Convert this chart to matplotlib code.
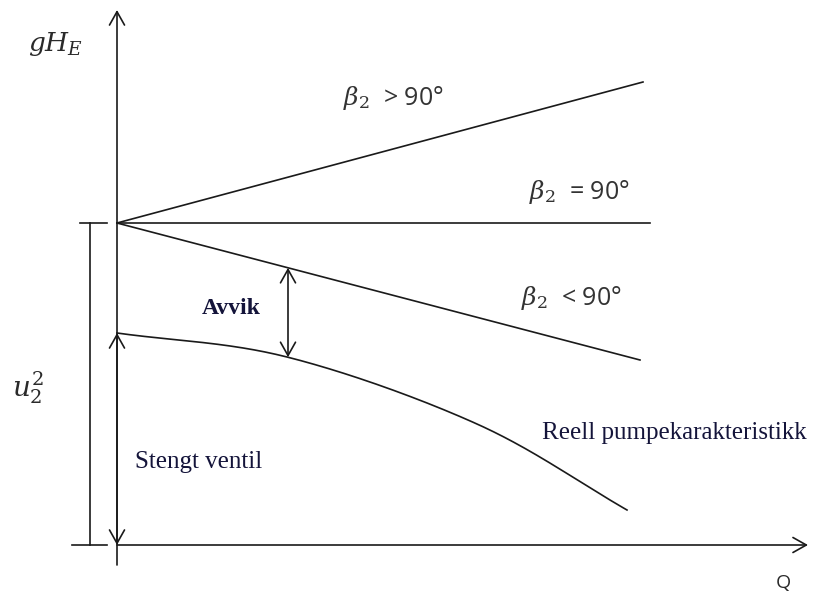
import matplotlib
matplotlib.use("Agg")
import matplotlib.pyplot as plt
import numpy as np

# ---- data (schematic units: Q to the right, gH_E upward) ----
shutoff_head = 322
q_beta_gt = [0, 526]
h_beta_gt = [322, 463]
q_beta_eq = [0, 533]
h_beta_eq = [322, 322]
q_beta_lt = [0, 523]
h_beta_lt = [322, 185]
q_real = [0, 170, 360, 510]
h_real = [212, 188, 121, 35]
q_avvik = 171
labels_beta = [r"$\beta_2$  > 90°", r"$\beta_2$  = 90°", r"$\beta_2$  < 90°"]

plt.rcParams['mathtext.fontset'] = 'dejavuserif'

fig = plt.figure(figsize=(8.15, 5.93), dpi=100)
ax = fig.add_axes([0, 0, 1, 1])
ax.set_xlim(-117, 698)
ax.set_ylim(-48, 545)
ax.axis('off')

lc = '#1a1a1a'
lw = 1.2

# lines
ax.plot(q_beta_gt, h_beta_gt, color=lc, lw=lw)
ax.plot(q_beta_eq, h_beta_eq, color=lc, lw=lw)
ax.plot(q_beta_lt, h_beta_lt, color=lc, lw=lw)

# smooth real curve through the read points (Catmull-Rom spline)
def catmull(xs, ys, n=80):
    xs = np.asarray(xs, float); ys = np.asarray(ys, float)
    px = np.concatenate([[2*xs[0]-xs[1]], xs, [2*xs[-1]-xs[-2]]])
    py = np.concatenate([[2*ys[0]-ys[1]], ys, [2*ys[-1]-ys[-2]]])
    ox, oy = [], []
    for i in range(1, len(px)-2):
        t = np.linspace(0, 1, n, endpoint=False)
        for arr, out in ((px, ox), (py, oy)):
            p0, p1, p2, p3 = arr[i-1], arr[i], arr[i+1], arr[i+2]
            out.extend(0.5*((2*p1) + (-p0+p2)*t + (2*p0-5*p1+4*p2-p3)*t**2 + (-p0+3*p1-3*p2+p3)*t**3))
    ox.append(xs[-1]); oy.append(ys[-1])
    return np.array(ox), np.array(oy)
cx, cy = catmull(q_real, h_real)
ax.plot(cx, cy, color=lc, lw=lw)

# axes arrows
arrow_kw = dict(color=lc, lw=lw, shrinkA=0, shrinkB=0, mutation_scale=12)
style1 = '->,head_length=0.8,head_width=0.45'
style2 = '<->,head_length=0.8,head_width=0.45'
ax.annotate('', xy=(0, 535), xytext=(0, -20), arrowprops=dict(arrowstyle=style1, **arrow_kw))
ax.annotate('', xy=(691, 0), xytext=(0, 0), arrowprops=dict(arrowstyle=style1, **arrow_kw))

# u2^2 double arrow on y axis
ax.annotate('', xy=(0, h_real[0]), xytext=(0, 0), arrowprops=dict(arrowstyle=style2, **arrow_kw))

# Avvik double arrow
h_line_at = h_beta_lt[0] + (h_beta_lt[1]-h_beta_lt[0]) * q_avvik / q_beta_lt[1]
h_curve_at = np.interp(q_avvik, cx, cy)
ax.annotate('', xy=(q_avvik, h_line_at), xytext=(q_avvik, h_curve_at),
            arrowprops=dict(arrowstyle=style2, **arrow_kw))

# bracket for u2^2
ax.plot([-27, -27], [0, shutoff_head], color=lc, lw=lw)
ax.plot([-37, -10], [shutoff_head, shutoff_head], color=lc, lw=lw)
ax.plot([-45, -10], [0, 0], color=lc, lw=lw)

# texts
tc = '#2a2a2a'
ax.text(-61, 501, r"$gH_E$", fontsize=19, ha='center', va='center', color=tc)
ax.text(-89, 157, r"$u_2^2$", fontsize=20, ha='center', va='center', color=tc)
bc = '#333333'
ax.text(276, 447, labels_beta[0], fontsize=18, ha='center', va='center', color=bc, family='Open Sans')
ax.text(462, 353, labels_beta[1], fontsize=18, ha='center', va='center', color=bc, family='Open Sans')
ax.text(454, 247, labels_beta[2], fontsize=18, ha='center', va='center', color=bc, family='Open Sans')

sc = '#14143a'
ax.text(114, 236, "Avvik", fontsize=17, ha='center', va='center', color=sc,
        family='Liberation Serif', weight='bold')
ax.text(425, 112, "Reell pumpekarakteristikk", fontsize=18, ha='left', va='center', color=sc,
        family='Liberation Serif')
ax.text(18, 83, "Stengt ventil", fontsize=18, ha='left', va='center', color=sc,
        family='Liberation Serif')
ax.text(666, -38, "Q", fontsize=14, ha='center', va='center', color=tc, family='Open Sans')

fig.savefig('out.png', dpi=100)
